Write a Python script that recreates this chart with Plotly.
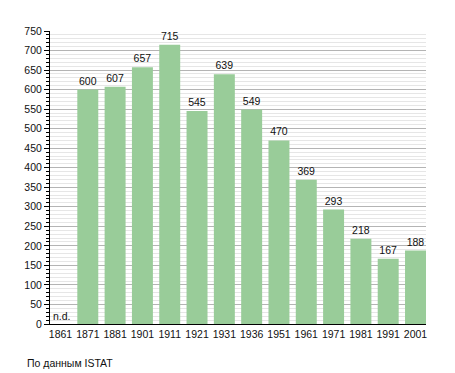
import plotly.graph_objects as go

years = ["1861", "1871", "1881", "1901", "1911", "1921", "1931", "1936",
         "1951", "1961", "1971", "1981", "1991", "2001"]
population = [None, 600, 607, 657, 715, 545, 639, 549, 470, 369, 293, 218, 167, 188]
labels = ["" if v is None else str(v) for v in population]
y_ticks = list(range(0, 751, 50))

W, H = 455, 373
L, R, T, B = 50, 29, 31, 49
PW, PH = W - L - R, H - T - B
bw = 0.768
FONT = "Liberation Sans, Arial, sans-serif"
FS = 10.5

fig = go.Figure()
fig.add_trace(go.Bar(
    x=list(range(len(years))), y=population,
    marker=dict(color="#99cc99", line=dict(width=0)),
    width=bw,
    text=labels, textposition="outside", cliponaxis=False,
    textfont=dict(family=FONT, size=FS, color="#111111"),
))

fig.add_annotation(x=0, y=0, xref="x", yref="y", text="n.d.", showarrow=False,
                   xanchor="left", yanchor="bottom", xshift=-bw / 2 * 27.3 + 1, yshift=0,
                   font=dict(family=FONT, size=FS, color="#111111"))
fig.add_annotation(x=(25 - L) / PW, y=((H - B) - 363) / PH, xref="paper", yref="paper",
                   text="По данным ISTAT", showarrow=False, xanchor="left", yanchor="middle",
                   font=dict(family=FONT, size=FS, color="#111111"))

fig.update_layout(
    width=W, height=H,
    margin=dict(l=L, r=R, t=T, b=B),
    plot_bgcolor="white", paper_bgcolor="white",
    showlegend=False,
    font=dict(family=FONT, size=FS, color="#111111"),
    xaxis=dict(
        tickmode="array", tickvals=list(range(len(years))), ticktext=years,
        range=[-bw / 2, len(years) - 1 + bw / 2],
        showgrid=False, zeroline=False,
        showline=True, linecolor="black", linewidth=1,
        ticks="", tickfont=dict(size=FS, color="#111111"),
    ),
    yaxis=dict(
        range=[0, 750], tickmode="array", tickvals=y_ticks,
        showgrid=True, gridcolor="#b4b4b4", gridwidth=1,
        zeroline=False,
        showline=True, linecolor="black", linewidth=1,
        ticks="outside", ticklen=5, tickcolor="black", tickwidth=1,
        tickfont=dict(size=FS, color="#111111"),
        minor=dict(dtick=10, showgrid=True, gridcolor="#e6e6e6", gridwidth=1,
                   ticks="outside", ticklen=3, tickcolor="black", tickwidth=1),
    ),
)

fig.write_html("out.html", config={"displayModeBar": False},
               post_script="document.body.style.margin='0';")
